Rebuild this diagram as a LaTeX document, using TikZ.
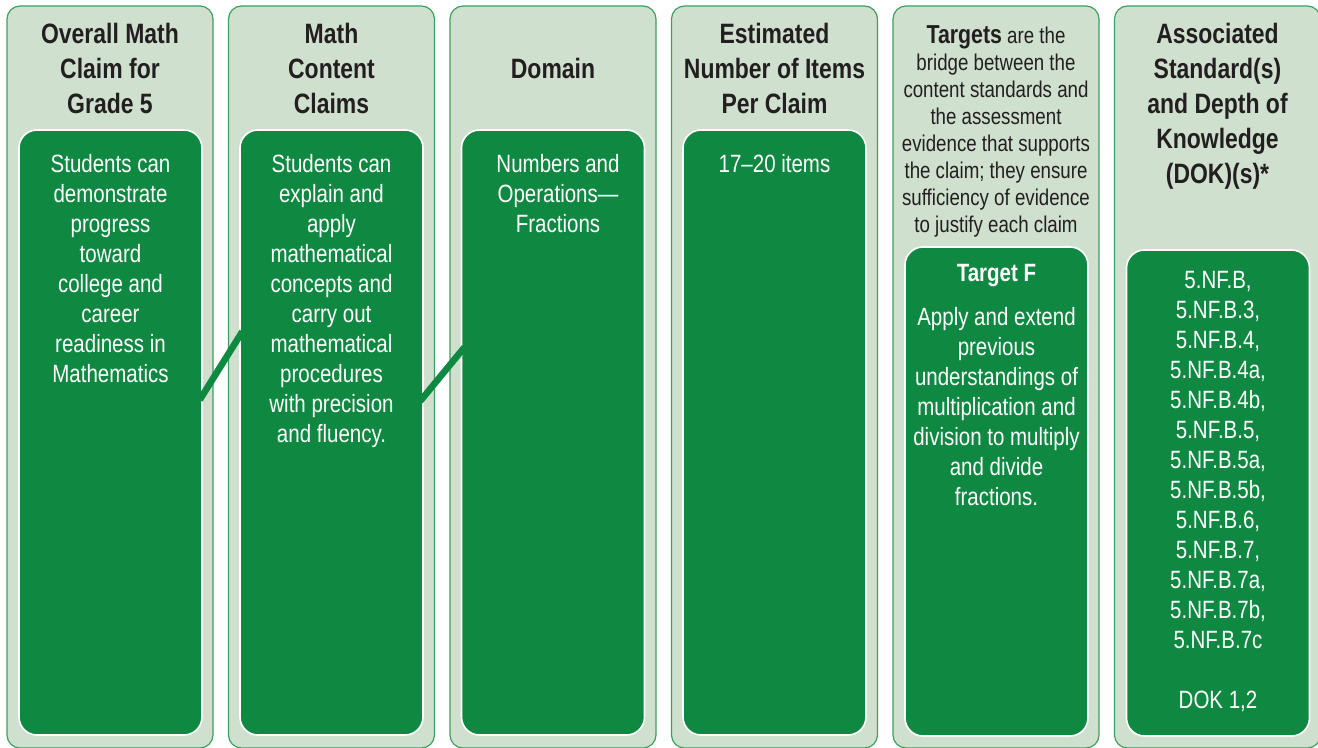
\documentclass[tikz,border=0pt]{standalone}
\usepackage{fontspec}
\setmainfont{Liberation Sans}[FakeStretch=0.82]
\usetikzlibrary{calc}
\definecolor{panel}{RGB}{207,224,206}
\definecolor{rim}{RGB}{60,160,95}
\definecolor{leaf}{RGB}{15,137,66}
\definecolor{ink}{RGB}{35,31,32}

\begin{document}
\begin{tikzpicture}[x=0.5pt,y=-0.5pt,
        column/.style={draw=rim,line width=0.6pt,fill=panel,rounded corners=6.5pt,minimum width=103pt,minimum height=371pt,inner sep=0pt},
        card/.style={draw=white,line width=0.8pt,fill=leaf,rounded corners=9pt,minimum width=91.5pt,inner sep=0pt},
        head/.style={anchor=north,align=center,inner sep=0pt,text=ink,font=\fontsize{14}{17.5}\selectfont\bfseries},
        note/.style={anchor=north,align=center,inner sep=0pt,text=ink,font=\fontsize{11.4}{13.5}\selectfont},
        body/.style={anchor=north,align=center,inner sep=0pt,text=white,font=\fontsize{12.5}{15}\selectfont},
        link/.style={leaf,line width=3.3pt,shorten <=-3pt,shorten >=-3pt}]
            \useasboundingbox (0,0) rectangle (1318,748);
            \clip (0,0) rectangle (1318,748);

            \node[column] (c1) at (110,377) {};
            \node[column] (c2) at (331.5,377) {};
            \node[column] (c3) at (553,377) {};
            \node[column] (c4) at (774.5,377) {};
            \node[column] (c5) at (996,377) {};
            \node[column] (c6) at (1217.5,377) {};

            \node[card,minimum height=302.5pt] (b1) at (110.5,432.5) {};
            \node[card,minimum height=302.5pt] (b2) at (331.5,432.5) {};
            \node[card,minimum height=302.5pt] (b3) at (553,432.5) {};
            \node[card,minimum height=302.5pt] (b4) at (774.5,432.5) {};
            \node[card,minimum height=244.5pt] (b5) at (996.5,491.5) {};
            \node[card,minimum height=243pt] (b6) at (1218,493) {};

            \draw[link] ($(b1.north east)!0.438!(b1.south east)$) -- ($(b2.north west)!0.342!(b2.south west)$);
            \draw[link] ($(b2.north east)!0.441!(b2.south east)$) -- ($(b3.north west)!0.367!(b3.south west)$);

            \node[head] (h1) at (110,22.6) {Overall Math\\Claim for\\Grade 5};
            \node[head] (h2) at (331.5,22.6) {Math\\Content\\Claims};
            \node[head] (h3) at (553,57.6) {Domain};
            \node[head] (h4) at (774.5,22.6) {Estimated\\Number of Items\\Per Claim};
            \node[note] (h5) at (996,25.3) {{\fontsize{13}{13.5}\selectfont\bfseries Targets} are the\\bridge between the\\content standards and\\the assessment\\evidence that supports\\the claim; they ensure\\sufficiency of evidence\\to justify each claim};
            \node[head] (h6) at (1217.5,22.6) {Associated\\Standard(s)\\and Depth of\\Knowledge\\(DOK)(s)*};

            \node[body] (t1) at (110.5,153.7) {Students can\\demonstrate\\progress\\toward\\college and\\career\\readiness in\\Mathematics};
            \node[body] (t2) at (331.5,153.7) {Students can\\explain and\\apply\\mathematical\\concepts and\\carry out\\mathematical\\procedures\\with precision\\and fluency.};
            \node[body] (t3) at (558,153.7) {Numbers and\\Operations—\\Fractions};
            \node[body] (t4) at (774.5,153.7) {17–20 items};
            \node[body] (t5) at (996.5,263.7) {\textbf{Target F}\\[7pt]Apply and extend\\previous\\understandings of\\multiplication and\\division to multiply\\and divide\\fractions.};
            \node[body] (t6) at (1218,270.7) {5.NF.B,\\5.NF.B.3,\\5.NF.B.4,\\5.NF.B.4a,\\5.NF.B.4b,\\5.NF.B.5,\\5.NF.B.5a,\\5.NF.B.5b,\\5.NF.B.6,\\5.NF.B.7,\\5.NF.B.7a,\\5.NF.B.7b,\\5.NF.B.7c\\[15pt]DOK 1,2};
        \end{tikzpicture}
\end{document}
